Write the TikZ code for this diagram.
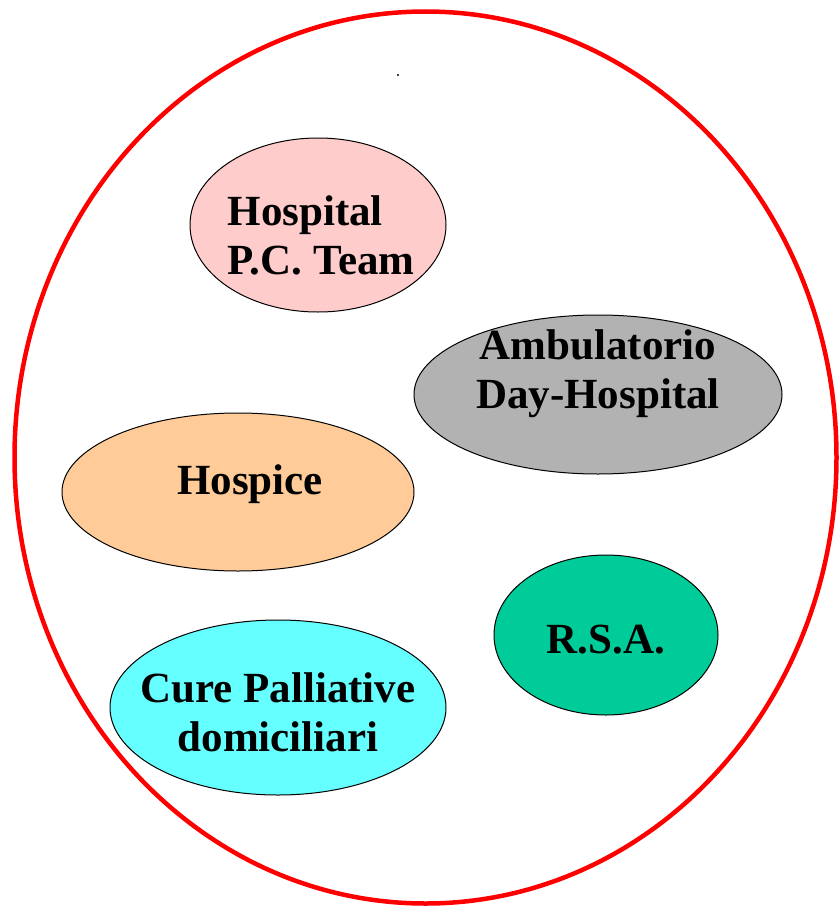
\documentclass[tikz,border=0pt]{standalone}
\usepackage{fontspec}
\setmainfont{Liberation Serif}
\usepackage{xcolor}
\usetikzlibrary{shapes.geometric}

\definecolor{pcpink}{HTML}{FFCCCC}
\definecolor{daygray}{HTML}{B2B2B2}
\definecolor{hosporange}{HTML}{FFCC99}
\definecolor{rsagreen}{HTML}{00CC99}
\definecolor{homecyan}{HTML}{66FFFF}

\tikzset{
  blob/.style={ellipse, draw=black, line width=1pt, inner sep=0pt},
  lbl/.style={font=\fontsize{43}{49}\selectfont\bfseries, align=center, inner sep=0pt}
}

\begin{document}
\begin{tikzpicture}[x=1pt, y=-1pt]
            \useasboundingbox (0,0) rectangle (840,907);

            \node[ellipse, draw=red, line width=4.5pt, minimum width=822pt, minimum height=892pt] (care) at (425.5, 457.5) {};
            \fill[black] (398, 75) circle (1.2pt); % dot

            \node[blob, fill=pcpink, minimum width=256pt, minimum height=174pt] (hosp) at (318, 225) {};
            \node[lbl, align=left] (hosptxt) at (321, 235) {Hospital\\P.C. Team};

            \node[blob, fill=daygray, minimum width=368pt, minimum height=159pt] (amb) at (598, 394.5) {};
            \node[lbl] (ambtxt) at (598, 374) {Ambulatorio\\Day-Hospital};

            \node[blob, fill=hosporange, minimum width=352pt, minimum height=158pt] (hospice) at (238, 492) {};
            \node[lbl] (hospicetxt) at (250, 484) {Hospice};

            \node[blob, fill=rsagreen, minimum width=224pt, minimum height=160pt] (rsa) at (606, 635) {};
            \node[lbl] (rsatxt) at (606, 640) {R.S.A.};

            \node[blob, fill=homecyan, minimum width=336pt, minimum height=175pt] (home) at (278, 707.5) {};
            \node[lbl] (hometxt) at (278, 712) {Cure Palliative\\domiciliari};
        \end{tikzpicture}
\end{document}
